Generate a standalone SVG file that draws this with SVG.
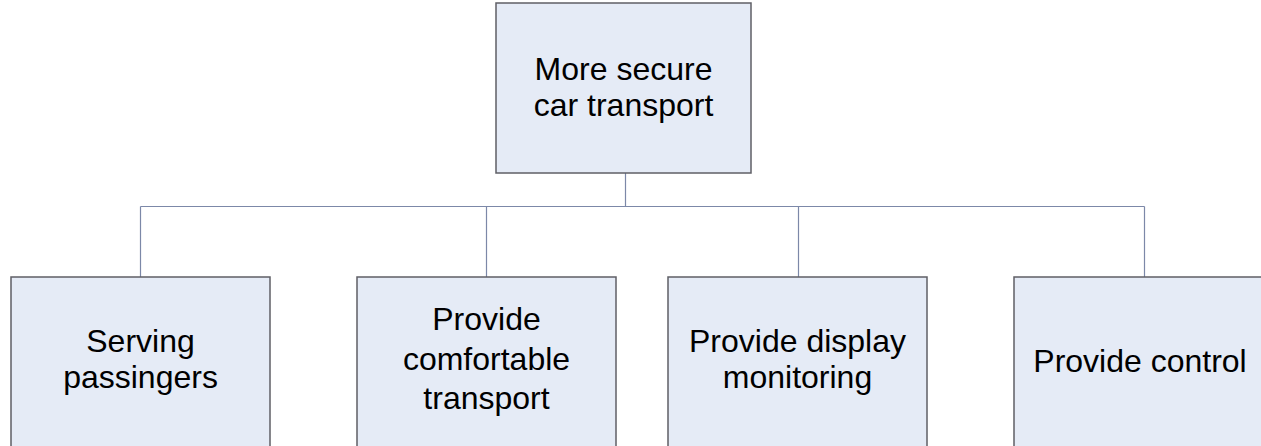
<svg xmlns="http://www.w3.org/2000/svg" width="1261" height="446" viewBox="0 0 1261 446">
<style>
.box{fill:#E5EBF6;stroke:#5F5F66;stroke-width:1.5}
.lbl{font-family:"Liberation Sans",Arial,sans-serif;font-size:32px;fill:#000;text-anchor:middle}
.con{fill:none;stroke:#7C88A8;stroke-width:1.2}
</style>
<rect width="1261" height="446" fill="#fff"/>
<g id="connectors">
<path class="con" d="M625.5 173V206.5M140.5 206.5H1144.5M140.5 206.5V277M486.5 206.5V277M798.5 206.5V277M1144.5 206.5V277"/>
</g>
<g id="root">
<rect class="box" x="496" y="3" width="255" height="170"/>
<text class="lbl" x="623.5" y="80">More secure</text>
<text class="lbl" x="623.5" y="116">car transport</text>
</g>
<g id="n1">
<rect class="box" x="11" y="277" width="259" height="200"/>
<text class="lbl" x="140.5" y="352">Serving</text>
<text class="lbl" x="140.5" y="388">passingers</text>
</g>
<g id="n2">
<rect class="box" x="357" y="277" width="259" height="200"/>
<text class="lbl" x="486.5" y="330">Provide</text>
<text class="lbl" x="486.5" y="370">comfortable</text>
<text class="lbl" x="486.5" y="409">transport</text>
</g>
<g id="n3">
<rect class="box" x="668" y="277" width="259" height="200"/>
<text class="lbl" x="797.5" y="352">Provide display</text>
<text class="lbl" x="797.5" y="388">monitoring</text>
</g>
<g id="n4">
<rect class="box" x="1014" y="277" width="259" height="200"/>
<text class="lbl" x="1140" y="372">Provide control</text>
</g>
</svg>
